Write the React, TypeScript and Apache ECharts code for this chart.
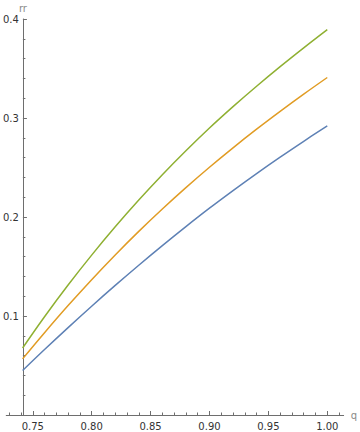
import React, { useEffect, useRef } from "react";
import * as echarts from "echarts";

const qValues = [0.7414, 0.76, 0.78, 0.8, 0.82, 0.84, 0.86, 0.88, 0.9, 0.92, 0.94, 0.96, 0.98, 1.0];
const blueValues = [0.0449, 0.0661, 0.0883, 0.1099, 0.1309, 0.1513, 0.1711, 0.1903, 0.2089, 0.2267, 0.2439, 0.2605, 0.2765, 0.2921];
const orangeValues = [0.0567, 0.0831, 0.1105, 0.1367, 0.1617, 0.1855, 0.2081, 0.2297, 0.2503, 0.2699, 0.2887, 0.3067, 0.3241, 0.3409];
const greenValues = [0.0677, 0.0993, 0.1313, 0.1615, 0.1901, 0.2171, 0.2427, 0.2669, 0.2899, 0.3115, 0.3321, 0.3519, 0.3709, 0.3893];

const xMajorTicks = [0.75, 0.8, 0.85, 0.9, 0.95, 1.0];
const xMinorTicks = [0.73, 0.74, 0.76, 0.77, 0.78, 0.79, 0.81, 0.82, 0.83, 0.84, 0.86, 0.87, 0.88, 0.89, 0.91, 0.92, 0.93, 0.94, 0.96, 0.97, 0.98, 0.99, 1.01];

const AXIS_COLOR = "#6e6e6e";
const LABEL_COLOR = "#333333";
const NAME_COLOR = "#8a8a8a";
const FONT = "DejaVu Sans";

export default function App() {
  const ref = useRef<HTMLDivElement>(null);
  useEffect(() => {
    if (!ref.current) return;
    const chart = echarts.init(ref.current, undefined, { renderer: "svg" });
    const mk = (vals: number[]) => qValues.map((q, i) => [q, vals[i]]);
    chart.setOption({
      animation: false,
      grid: { left: 1.7, right: 15, top: 19, bottom: 17, containLabel: false },
      xAxis: [
        {
          type: "value",
          min: 0.7275,
          max: 1.0139,
          name: "q",
          nameLocation: "end",
          nameGap: 7,
          nameTextStyle: { color: NAME_COLOR, fontFamily: FONT, fontSize: 10, verticalAlign: "middle" },
          axisLine: { show: true, lineStyle: { color: AXIS_COLOR, width: 1 } },
          axisTick: { show: true, inside: true, length: 4, customValues: xMajorTicks, lineStyle: { color: AXIS_COLOR } },
          axisLabel: {
            show: true,
            customValues: xMajorTicks,
            margin: 6,
            color: LABEL_COLOR,
            fontFamily: FONT,
            fontSize: 10,
            formatter: (v: number) => v.toFixed(2),
          },
          splitLine: { show: false },
        },
        {
          type: "value",
          min: 0.7275,
          max: 1.0139,
          position: "bottom",
          axisLine: { show: false },
          axisTick: { show: true, inside: true, length: 2.5, customValues: xMinorTicks, lineStyle: { color: AXIS_COLOR } },
          axisLabel: { show: false },
          splitLine: { show: false },
        },
      ],
      yAxis: {
        type: "value",
        min: 0,
        max: 0.4,
        interval: 0.1,
        offset: -16.66,
        name: "rr",
        nameLocation: "end",
        nameGap: 6,
        nameTextStyle: { color: NAME_COLOR, fontFamily: FONT, fontSize: 10, align: "center" },
        axisLine: { show: true, lineStyle: { color: AXIS_COLOR, width: 1 } },
        axisTick: { show: true, inside: true, length: 4, lineStyle: { color: AXIS_COLOR } },
        minorTick: { show: true, splitNumber: 5, length: 2.5, lineStyle: { color: AXIS_COLOR } },
        axisLabel: {
          show: true,
          margin: 4,
          color: LABEL_COLOR,
          fontFamily: FONT,
          fontSize: 10,
          formatter: (v: number) => (v === 0 ? "" : v.toFixed(1)),
        },
        splitLine: { show: false },
        minorSplitLine: { show: false },
      },
      series: [
        { type: "line", data: mk(blueValues), showSymbol: false, smooth: 0.4, lineStyle: { color: "#5E81B5", width: 1.5 }, itemStyle: { color: "#5E81B5" } },
        { type: "line", data: mk(orangeValues), showSymbol: false, smooth: 0.4, lineStyle: { color: "#E19C24", width: 1.5 }, itemStyle: { color: "#E19C24" } },
        { type: "line", data: mk(greenValues), showSymbol: false, smooth: 0.4, lineStyle: { color: "#8FB032", width: 1.5 }, itemStyle: { color: "#8FB032" } },
      ],
    });
    return () => chart.dispose();
  }, []);
  return <div ref={ref} style={{ width: 360, height: 432, position: "absolute", left: 0, top: 0, background: "#fff" }} />;
}
